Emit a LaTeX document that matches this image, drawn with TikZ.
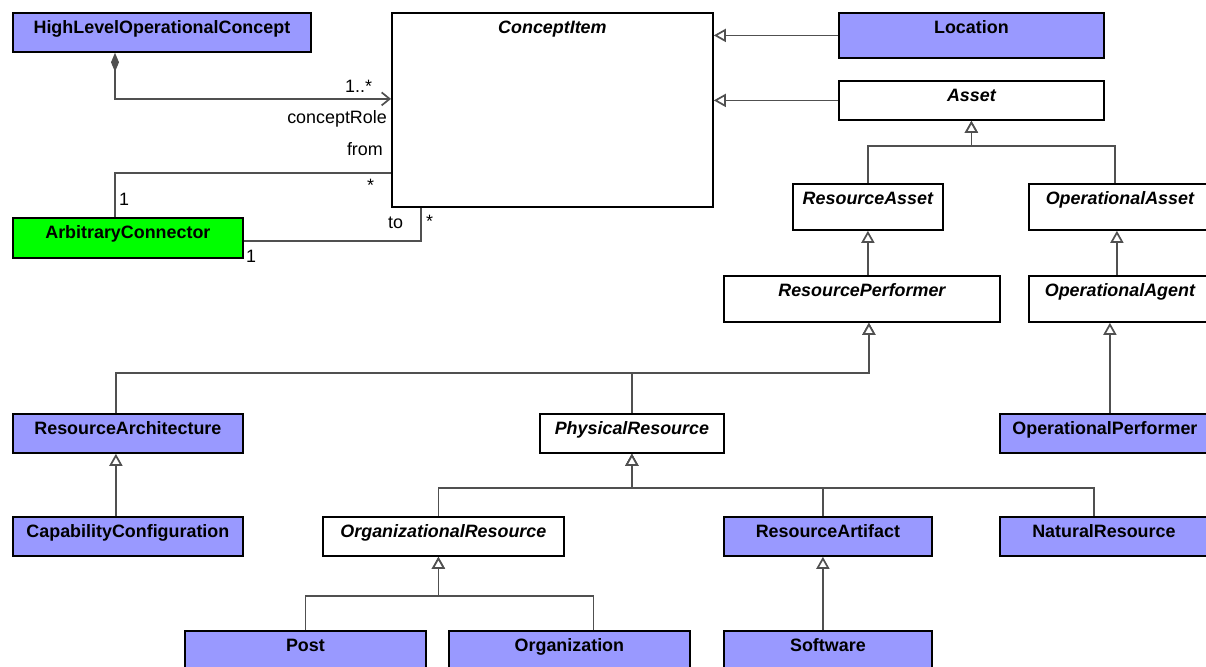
\documentclass[tikz,border=0pt]{standalone}
\usepackage{fontspec}
\setmainfont{Liberation Sans}
\usetikzlibrary{arrows.meta}
\definecolor{classBlue}{HTML}{9999FF}
\definecolor{connectorGreen}{HTML}{00FF00}
\definecolor{edgeGray}{HTML}{505050}
\newcommand{\umlSize}{\fontsize{17.9}{21}\selectfont}

\begin{document}
\begin{tikzpicture}[x=1pt, y=-1pt, >=latex, font=\umlSize]
        \tikzstyle{classBox} = [draw=black, line width=1.8pt, rectangle,
            anchor=north west, inner sep=0pt]
        \tikzstyle{concreteClass} = [classBox, fill=classBlue]
        \tikzstyle{abstractClass} = [classBox, fill=white]
        \tikzstyle{classTitle} = [anchor=north, inner sep=0pt, text height=13pt,
            text depth=4pt, yshift=-8pt, font=\umlSize\bfseries]
        \tikzstyle{abstractTitle} = [classTitle, font=\umlSize\bfseries\itshape]
        \tikzstyle{edgePortion} = [draw=edgeGray, line width=1.7pt];
        \tikzstyle{genEdge} = [edgePortion,
            -{Triangle[open, length=12pt, width=13pt, fill=white]}];
        \tikzstyle{compEdge} = [edgePortion,
            {Diamond[length=19pt, width=8pt, fill=edgeGray]}-{Straight Barb[length=8pt, width=13pt]}];
        \tikzstyle{endLabel} = [inner sep=0pt];

        \useasboundingbox (0,0) rectangle (1206,666);

        % classes
        \node[concreteClass, minimum width=298pt, minimum height=39pt,
            label={[classTitle]north:HighLevelOperationalConcept}] (hloc) at (12,12) {};
        \node[abstractClass, minimum width=321pt, minimum height=194pt,
            label={[abstractTitle]north:ConceptItem}] (concept) at (391,12) {};
        \node[concreteClass, minimum width=265pt, minimum height=45pt,
            label={[classTitle]north:Location}] (location) at (838,12) {};
        \node[abstractClass, minimum width=265pt, minimum height=39pt,
            label={[abstractTitle]north:Asset}] (asset) at (838,80) {};
        \node[abstractClass, minimum width=150pt, minimum height=46pt,
            label={[abstractTitle]north:ResourceAsset}] (resAsset) at (792,183) {};
        \node[abstractClass, minimum width=182pt, minimum height=46pt,
            label={[abstractTitle]north:OperationalAsset}] (opAsset) at (1028,183) {};
        \node[abstractClass, minimum width=276pt, minimum height=46pt,
            label={[abstractTitle]north:ResourcePerformer}] (resPerf) at (723,275) {};
        \node[abstractClass, minimum width=182pt, minimum height=46pt,
            label={[abstractTitle]north:OperationalAgent}] (opAgent) at (1028,275) {};
        \node[classBox, fill=connectorGreen, minimum width=230pt, minimum height=40pt,
            label={[classTitle]north:ArbitraryConnector}] (arbConn) at (12,217) {};
        \node[concreteClass, minimum width=230pt, minimum height=39pt,
            label={[classTitle]north:ResourceArchitecture}] (resArch) at (12,413) {};
        \node[abstractClass, minimum width=184pt, minimum height=39pt,
            label={[abstractTitle]north:PhysicalResource}] (physRes) at (539,413) {};
        \node[concreteClass, minimum width=210pt, minimum height=39pt,
            label={[classTitle]north:OperationalPerformer}] (opPerf) at (999,413) {};
        \node[concreteClass, minimum width=230pt, minimum height=39pt,
            label={[classTitle]north:CapabilityConfiguration}] (capConf) at (12,516) {};
        \node[abstractClass, minimum width=241pt, minimum height=39pt,
            label={[abstractTitle]north:OrganizationalResource}] (orgRes) at (322,516) {};
        \node[concreteClass, minimum width=208pt, minimum height=39pt,
            label={[classTitle]north:ResourceArtifact}] (resArt) at (723,516) {};
        \node[concreteClass, minimum width=208pt, minimum height=39pt,
            label={[classTitle]north:NaturalResource}] (natRes) at (999,516) {};
        \node[concreteClass, minimum width=241pt, minimum height=50pt,
            label={[classTitle]north:Post}] (post) at (184,630) {};
        \node[concreteClass, minimum width=241pt, minimum height=50pt,
            label={[classTitle]north:Organization}] (org) at (448,630) {};
        \node[concreteClass, minimum width=208pt, minimum height=50pt,
            label={[classTitle]north:Software}] (software) at (723,630) {};

        % associations
        \draw[compEdge] ([xshift=103pt]hloc.south west) |- ([yshift=11pt]concept.west);
        \draw[edgePortion] ([xshift=103pt]arbConn.north west) |- ([yshift=-63pt]concept.west);
        \draw[edgePortion] ([yshift=-3pt]arbConn.east) -| ([xshift=-131.5pt]concept.south);

        \node[endLabel, anchor=base west] (roleMult) at (345,93) {1..*};
        \node[endLabel, anchor=base east] (roleName) at (387,124) {conceptRole};
        \node[endLabel, anchor=base east] (fromName) at (383,155) {from};
        \node[endLabel, anchor=base west] (fromMult) at (367,191) {*};
        \node[endLabel, anchor=base west] (fromOne) at (119,205) {1};
        \node[endLabel, anchor=base west] (toName) at (388,228) {to};
        \node[endLabel, anchor=base west] (toMult) at (426,227) {*};
        \node[endLabel, anchor=base west] (toOne) at (246,262) {1};

        % generalizations
        \draw[genEdge] (location.west) -- (location.west -| concept.east);
        \draw[genEdge] (asset.west) -- (asset.west -| concept.east);
        \draw[genEdge] (resAsset.north) -- ++(0,-37) -| (asset.south);
        \draw[genEdge] ([xshift=-5pt]opAsset.north) -- ++(0,-37) -| (asset.south);
        \draw[genEdge] (resPerf.north -| resAsset.south) -- (resAsset.south);
        \draw[genEdge] ([xshift=-3pt]opAgent.north) -- ([xshift=-3pt]opAsset.south);
        \draw[genEdge] ([xshift=-12pt]resArch.north) -- ++(0,-40) -| ([xshift=7pt]resPerf.south);
        \draw[genEdge] (physRes.north) -- ++(0,-40) -| ([xshift=7pt]resPerf.south);
        \draw[genEdge] ([xshift=-12pt]capConf.north) -- ([xshift=-12pt]resArch.south);
        \draw[genEdge] ([xshift=5pt]opPerf.north) -- ([xshift=-10pt]opAgent.south);
        \draw[genEdge] ([xshift=-5pt]orgRes.north) -- ++(0,-28) -| (physRes.south);
        \draw[genEdge] ([xshift=-5pt]resArt.north) -- ++(0,-28) -| (physRes.south);
        \draw[genEdge] ([xshift=-10pt]natRes.north) -- ++(0,-28) -| (physRes.south);
        \draw[genEdge] (post.north) -- ++(0,-34) -| ([xshift=-5pt]orgRes.south);
        \draw[genEdge] ([xshift=24pt]org.north) -- ++(0,-34) -| ([xshift=-5pt]orgRes.south);
        \draw[genEdge] ([xshift=-5pt]software.north) -- ([xshift=-5pt]resArt.south);
    \end{tikzpicture}
\end{document}
